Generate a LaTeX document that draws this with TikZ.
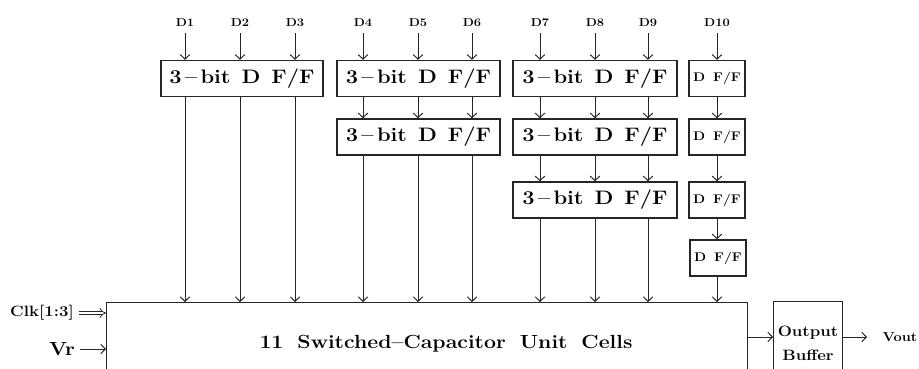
\documentclass[tikz,border=0pt]{standalone}
\usepackage{fontspec}
\setmainfont{Latin Modern Roman}[FakeStretch=1.12]
\usetikzlibrary{arrows.meta}
\tikzset{
  wire/.style={line width=1pt, draw=black!85, -{Straight Barb[length=4.5pt,width=9.5pt,line width=1pt]}},
  dwire/.style={line width=0.8pt, draw=black!85, double, double distance=2.6pt, -{Implies[length=4pt]}},
  ffbox/.style={draw=black!85, line width=1.4pt, minimum height=36pt, inner sep=0pt,
    font=\bfseries\fontsize{19.5}{22}\selectfont},
  ffsmall/.style={ffbox, minimum width=56pt, font=\bfseries\fontsize{12.5}{14}\selectfont},
  blk/.style={draw=black!85, line width=1.4pt, inner sep=0pt, anchor=north west},
  inlabel/.style={inner sep=1pt, font=\bfseries\fontsize{11.5}{13}\selectfont},
}
\newcommand{\fftext}{3\,--\,bit\hspace{11pt}D\hspace{11pt}F/F}
\newcommand{\ffshort}{D\hspace{8pt}F/F}
\begin{document}
\begin{tikzpicture}[x=1pt,y=-1pt]
  \useasboundingbox (0,0) rectangle (919,369);
  \clip (0,0) rectangle (919,369);

  % data inputs
  \node[inlabel] (d1)  at (185,23) {D1};
  \node[inlabel] (d2)  at (240,23) {D2};
  \node[inlabel] (d3)  at (295,23) {D3};
  \node[inlabel] (d4)  at (363,23) {D4};
  \node[inlabel] (d5)  at (418,23) {D5};
  \node[inlabel] (d6)  at (472,23) {D6};
  \node[inlabel] (d7)  at (540,23) {D7};
  \node[inlabel] (d8)  at (595,23) {D8};
  \node[inlabel] (d9)  at (648,23) {D9};
  \node[inlabel] (d10) at (717,23) {D10};

  % flip-flop chains
  \node[ffbox, minimum width=162pt] (a1) at (242,78.5) {\fftext};

  \node[ffbox, minimum width=163pt] (b1) at (418.5,78.5) {\fftext};
  \node[ffbox, minimum width=163pt] (b2) at (418.5,137) {\fftext};

  \node[ffbox, minimum width=164pt] (c1) at (595,78.5) {\fftext};
  \node[ffbox, minimum width=164pt] (c2) at (595,137) {\fftext};
  \node[ffbox, minimum width=164pt] (c3) at (595,200) {\fftext};

  \node[ffsmall] (e1) at (717,78.5) {\ffshort};
  \node[ffsmall] (e2) at (717,137) {\ffshort};
  \node[ffsmall] (e3) at (717,200) {\ffshort};
  \node[ffsmall] (e4) at (718,258) {\ffshort};

  % switched-capacitor array and output buffer
  \node[blk, minimum width=641pt, minimum height=90pt] (sc) at (106,302) {};
  \node[font=\bfseries\fontsize{19}{22}\selectfont] (sclabel) at (446,344)
    {11\hspace{14pt}Switched--Capacitor\hspace{14pt}Unit\hspace{14pt}Cells};
  \node[blk, minimum width=69pt, minimum height=90pt] (ob) at (773,301) {};
  \node[align=center, font=\bfseries\fontsize{15}{24}\selectfont] (obtext) at (808,343) {Output\\Buffer};

  % side inputs and output
  \node[font=\bfseries\fontsize{15}{17}\selectfont] (clk) at (42,313) {Clk[1:3]};
  \node[font=\bfseries\fontsize{19}{21}\selectfont] (vr) at (62,349) {Vr};
  \node[font=\bfseries\fontsize{13}{15}\selectfont, anchor=west] (vout) at (879,337) {Vout};
  \coordinate (mid) at (760,337);

  % input arrows into the first row
  \foreach \d/\b in {d1/a1,d2/a1,d3/a1,d4/b1,d5/b1,d6/b1,d7/c1,d8/c1,d9/c1,d10/e1}
    \draw[wire] ([yshift=-5pt]\d.south) -- (\d |- \b.north);

  % links between successive flip-flops
  \foreach \d in {d4,d5,d6}
    \draw[wire] (\d |- b1.south) -- (\d |- b2.north);
  \foreach \d in {d7,d8,d9}{
    \draw[wire] (\d |- c1.south) -- (\d |- c2.north);
    \draw[wire] (\d |- c2.south) -- (\d |- c3.north);
  }
  \draw[wire] (d10 |- e1.south) -- (d10 |- e2.north);
  \draw[wire] (d10 |- e2.south) -- (d10 |- e3.north);
  \draw[wire] (d10 |- e3.south) -- (d10 |- e4.north);

  % outputs into the unit cells
  \foreach \d in {d1,d2,d3}
    \draw[wire] (\d |- a1.south) -- (\d |- sc.north);
  \foreach \d in {d4,d5,d6}
    \draw[wire] (\d |- b2.south) -- (\d |- sc.north);
  \foreach \d in {d7,d8,d9}
    \draw[wire] (\d |- c3.south) -- (\d |- sc.north);
  \draw[wire] (d10 |- e4.south) -- (d10 |- sc.north);

  % clock, reference, output path
  \draw[dwire] ([xshift=2pt]clk.east) -- (clk.east -| sc.west);
  \draw[wire] ([xshift=2pt]vr.east) -- (vr.east -| sc.west);
  \draw[wire] (mid -| sc.east) -- (mid -| ob.west);
  \draw[wire] (mid -| ob.east) -- ([xshift=-12pt]vout.west);
\end{tikzpicture}
\end{document}
